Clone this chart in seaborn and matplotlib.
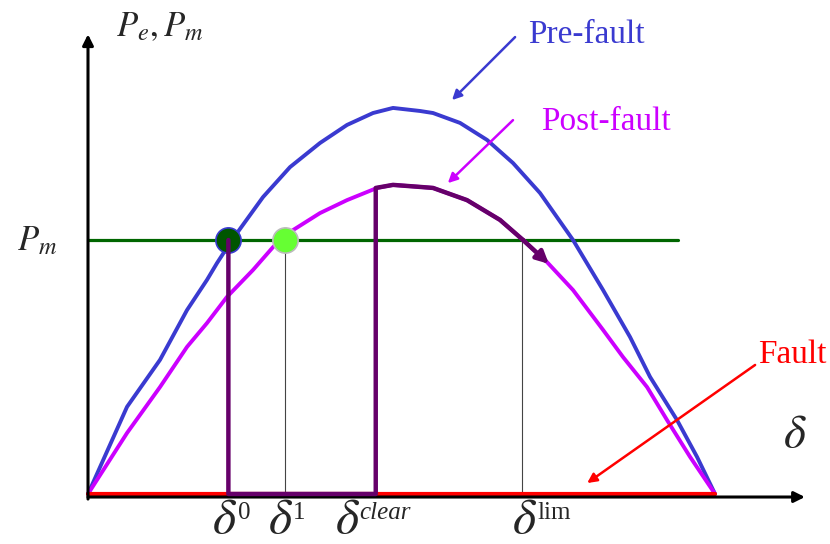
import matplotlib.pyplot as plt
import pandas as pd
import seaborn as sns

# power-angle curves: load angle (deg) vs power (p.u.)
pre_delta = [0, 11.20, 20.67, 28.42, 34.16, 37.03, 41.34, 50.24, 57.99, 66.60, 74.35, 81.82,
             87.56, 95.31, 99.04, 106.80, 114.55, 122.01, 129.76, 139.23, 147.85, 155.60,
             161.34, 169.09, 174.83, 180]
pre_p = [0, 0.343, 0.528, 0.724, 0.843, 0.909, 1.000, 1.169, 1.287, 1.382, 1.453, 1.500,
         1.520, 1.508, 1.500, 1.461, 1.394, 1.303, 1.185, 1.000, 0.803, 0.618,
         0.461, 0.291, 0.146, 0]

post_delta = [0, 11.20, 20.67, 28.42, 34.16, 39.90, 47.37, 53.11, 58.85, 66.60, 74.35, 82.97,
              87.56, 95.31, 99.04, 108.80, 118.28, 124.88, 131.77, 139.23, 147.85, 153.59,
              160.48, 166.22, 172.83, 180]
post_p = [0, 0.240, 0.421, 0.579, 0.673, 0.776, 0.882, 0.972, 1.039, 1.106, 1.157, 1.205,
          1.217, 1.209, 1.205, 1.157, 1.079, 1.000, 0.913, 0.803, 0.646, 0.539,
          0.421, 0.291, 0.146, 0]

fault_delta = [0, 180]
fault_p = [0, 0]

pm = 1.0
pm_delta = [0, 169.4]

delta_0 = 40.3
delta_1 = 56.6
delta_clear = 82.6
delta_lim = 124.6

# rotor trajectory: drop at fault, slide along Pe=0, jump to post-fault at clearing
traj_delta = [delta_0, delta_0, delta_clear, delta_clear, 87.56, 95.31, 99.04, 108.80, 118.28, 124.88]
traj_p = [pm, 0, 0, 1.205, 1.217, 1.209, 1.205, 1.157, 1.079, 1.000]
traj_end = (132.3, 0.906)

BLUE = "#3a3ad0"
MAGENTA = "#cc00ff"
PURPLE = "#66006a"
GREEN = "#006600"
RED = "#ff0000"

sns.set_style("white")
plt.rcParams["font.family"] = ["Liberation Serif", "DejaVu Serif"]
plt.rcParams["mathtext.fontset"] = "stix"
plt.rcParams["lines.solid_joinstyle"] = "round"

fig = plt.figure(figsize=(8.3, 5.44), dpi=100)
ax = fig.add_axes([0, 0, 1, 1])

pre = pd.DataFrame({"delta": pre_delta, "P": pre_p})
post = pd.DataFrame({"delta": post_delta, "P": post_p})
fault = pd.DataFrame({"delta": fault_delta, "P": fault_p})
pm_line = pd.DataFrame({"delta": pm_delta, "P": [pm, pm]})
traj = pd.DataFrame({"delta": traj_delta, "P": traj_p})

line_kw = dict(sort=False, estimator=None, ax=ax)

sns.lineplot(data=pm_line, x="delta", y="P", color=GREEN, lw=2.3, zorder=2, **line_kw)
for d in (delta_1, delta_lim):
    sns.lineplot(x=[d, d], y=[pm, 0], color="#444444", lw=0.8, zorder=2, **line_kw)
sns.lineplot(data=pre, x="delta", y="P", color=BLUE, lw=2.8, zorder=3, **line_kw)
sns.lineplot(data=post, x="delta", y="P", color=MAGENTA, lw=2.8, zorder=3, **line_kw)
sns.lineplot(data=fault, x="delta", y="P", color=RED, lw=3, zorder=3, **line_kw)

# operating points
sns.scatterplot(x=[delta_0], y=[pm], s=330, color="#005500", edgecolor=BLUE, linewidth=1.2, ax=ax, zorder=4)
sns.scatterplot(x=[delta_1], y=[pm], s=330, color="#66ff33", edgecolor="#bbbbbb", linewidth=1.2, ax=ax, zorder=4)

sns.lineplot(data=traj, x="delta", y="P", color=PURPLE, lw=3.2, zorder=5, **line_kw)
ax.annotate("", xy=traj_end, xytext=(traj_delta[-1], traj_p[-1]),
            arrowprops=dict(arrowstyle="-|>", color=PURPLE, lw=3.2, mutation_scale=18,
                            shrinkA=0, shrinkB=0), zorder=5)

# axes with arrows
ax.annotate("", xy=(205.8, -0.012), xytext=(0, -0.012),
            arrowprops=dict(arrowstyle="-|>", color="black", lw=2.2, mutation_scale=16, shrinkA=0, shrinkB=0))
ax.annotate("", xy=(0, 1.81), xytext=(0, -0.02),
            arrowprops=dict(arrowstyle="-|>", color="black", lw=2.2, mutation_scale=16, shrinkA=0, shrinkB=0))

# labels with pointer arrows
ax.text(126.3, 1.807, "Pre-fault", color=BLUE, fontsize=24, va="center")
ax.annotate("", xy=(104.5, 1.551), xytext=(122.6, 1.799),
            arrowprops=dict(arrowstyle="-|>", color=BLUE, lw=1.8, mutation_scale=14, shrinkA=0, shrinkB=0))
ax.text(130.0, 1.465, "Post-fault", color=MAGENTA, fontsize=24, va="center")
ax.annotate("", xy=(103.3, 1.224), xytext=(122.0, 1.472),
            arrowprops=dict(arrowstyle="-|>", color=MAGENTA, lw=1.8, mutation_scale=14, shrinkA=0, shrinkB=0))
ax.text(192.3, 0.547, "Fault", color=RED, fontsize=24, va="center")
ax.annotate("", xy=(143.3, 0.043), xytext=(191.5, 0.508),
            arrowprops=dict(arrowstyle="-|>", color=RED, lw=1.8, mutation_scale=14, shrinkA=0, shrinkB=0))

ax.text(20.7, 1.835, r"$P_e,P_m$", fontsize=25, ha="center", va="center")
ax.text(-14.6, 0.992, r"$P_m$", fontsize=25, ha="center", va="center")
ax.text(203.0, 0.228, r"$\delta$", fontsize=34, ha="center", va="center")

# angle labels under the axis: big delta plus a small superscript
delta_x = [35.6, 51.7, 70.9, 121.7]
sup_x = [43.2, 58.7, 77.9, 129.0]
sup_text = ["0", "1", "clear", "lim"]
sup_style = ["normal", "normal", "italic", "normal"]
for dx, sx, st, sty in zip(delta_x, sup_x, sup_text, sup_style):
    ax.text(dx, -0.152, r"$\delta$", fontsize=36, ha="left", va="baseline")
    ax.text(sx, -0.098, st, fontsize=18, style=sty, ha="left", va="baseline")

ax.set_xlim(-25.26, 213.0)
ax.set_ylim(-0.197, 1.945)
ax.axis("off")
fig.savefig("out.png", dpi=100)
